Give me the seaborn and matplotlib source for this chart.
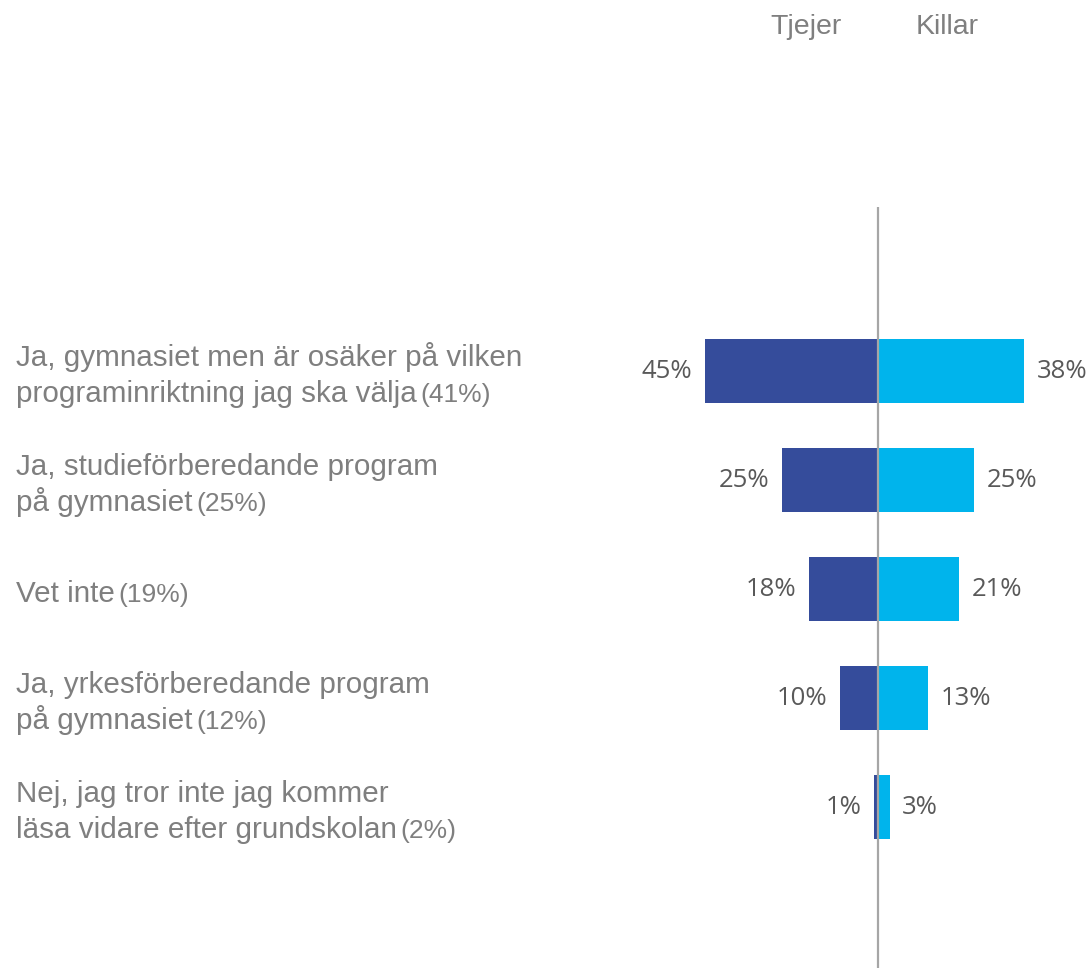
import numpy as np
import pandas as pd
import matplotlib
matplotlib.use("Agg")
import matplotlib.pyplot as plt
import matplotlib.transforms as mtransforms
import seaborn as sns

# data
answers = [
    "Ja, gymnasiet men är osäker på vilken\nprograminriktning jag ska välja",
    "Ja, studieförberedande program\npå gymnasiet",
    "Vet inte",
    "Ja, yrkesförberedande program\npå gymnasiet",
    "Nej, jag tror inte jag kommer\nläsa vidare efter grundskolan",
]
totals = [41, 25, 19, 12, 2]
tjejer = [45, 25, 18, 10, 1]
killar = [38, 25, 21, 13, 3]
groups = ["Tjejer", "Killar"]
colors = ["#354c9b", "#00b4ec"]

df = pd.DataFrame({
    "svar": answers * 2,
    "grupp": ["Tjejer"] * len(answers) + ["Killar"] * len(answers),
    "andel": [-v for v in tjejer] + killar,
})

sns.set_style("white")
label_font = ["Liberation Sans", "DejaVu Sans"]
value_font = ["Open Sans", "DejaVu Sans"]

fig = plt.figure(figsize=(10.91, 9.68), dpi=100)
ax = fig.add_axes([0, 0, 1, 1 - 207 / 968])

sns.barplot(data=df, y="svar", x="andel", hue="grupp", hue_order=groups,
            palette=colors, dodge=False, width=0.587, orient="h",
            legend=False, ax=ax, linewidth=0, saturation=1)

px_per = 3.85
ax.set_xlim(-878 / px_per, (1091 - 878) / px_per)
ax.set_ylim(5.477, -1.505)
ax.axvline(0, color="#a6a6a6", lw=1.6, zorder=5)
ax.set_axis_off()

for cont, vals in zip(ax.containers, [tjejer, killar]):
    ax.bar_label(cont, labels=[f"{v}%" for v in vals], padding=9,
                 fontsize=18.5, color="#595959", family=value_font)

# category labels on the left (x in figure coords, y in data coords)
trans = mtransforms.blended_transform_factory(fig.transFigure, ax.transData)
last_lines = []
for i, (txt, tot) in enumerate(zip(answers, totals)):
    lines = txt.split("\n")
    n = len(lines)
    base = i + 13 / 109
    step = 36 / 109
    start = base - step * (n - 1) / 2
    t = None
    for k, line in enumerate(lines):
        t = ax.text(16 / 1091, start + k * step, line, transform=trans,
                    ha="left", va="baseline", fontsize=21.3,
                    color="#7f7f7f", family=label_font)
    last_lines.append((t, start + (n - 1) * step, tot))

fig.canvas.draw()
renderer = fig.canvas.get_renderer()
for t, y, tot in last_lines:
    bb = t.get_window_extent(renderer)
    x = (bb.x1 + 4) / fig.bbox.width
    ax.text(x, y, f"({tot}%)", transform=trans, ha="left", va="baseline",
            fontsize=19, color="#7f7f7f", family=label_font)

# header
fig.text(806 / 1091, 1 - 27 / 968, "Tjejer", ha="center", va="center",
         fontsize=20.5, color="#7f7f7f", family=label_font)
fig.text(947 / 1091, 1 - 27 / 968, "Killar", ha="center", va="center",
         fontsize=20.5, color="#7f7f7f", family=label_font)

fig.savefig("out.png", dpi=100)
